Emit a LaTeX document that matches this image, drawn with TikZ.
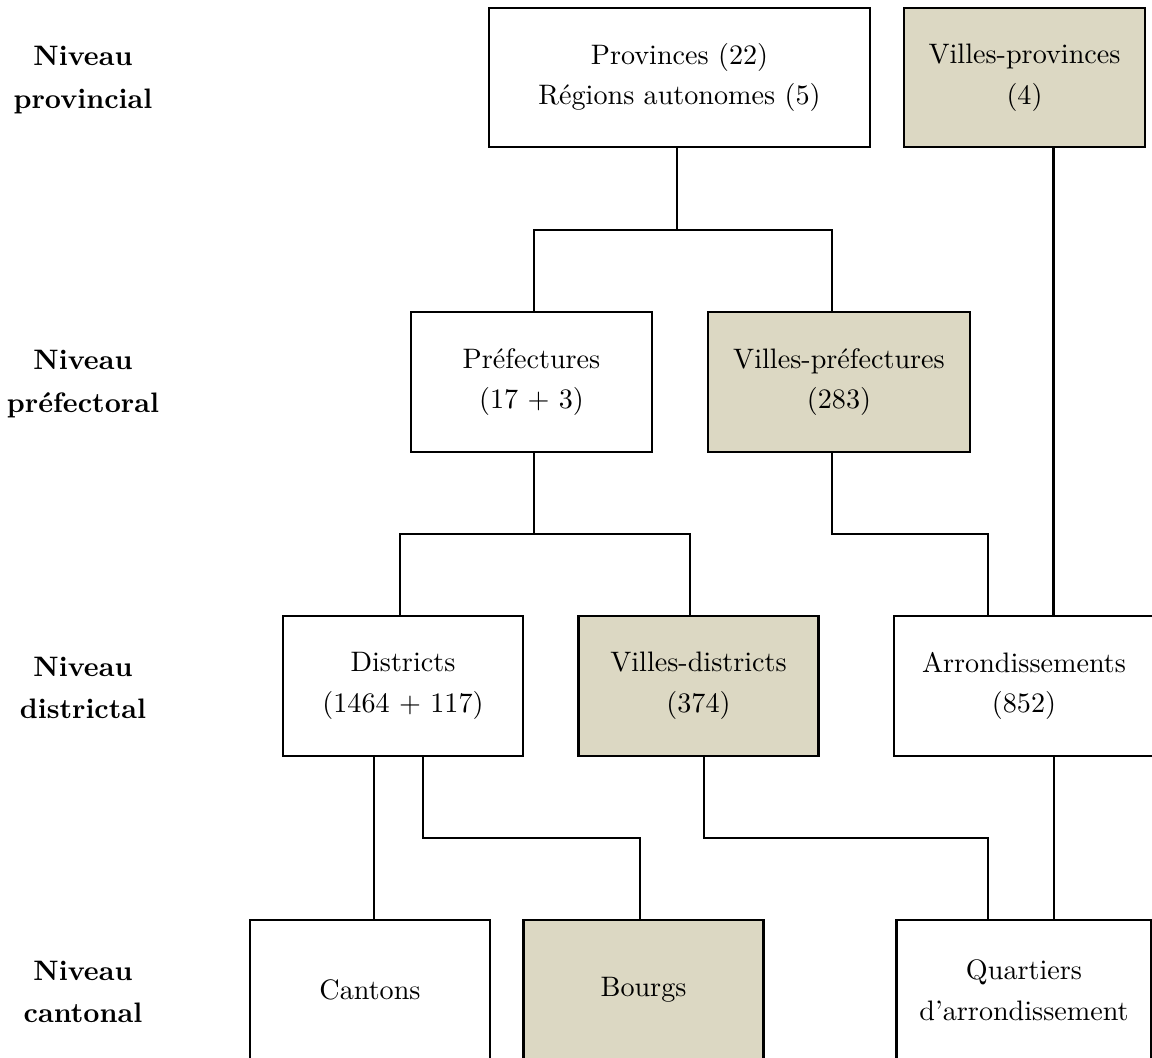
\documentclass[tikz,border=0pt]{standalone}
\usetikzlibrary{calc}
\definecolor{shade}{RGB}{220,216,195}
\begin{document}
\begin{tikzpicture}[x=0.3552pt,y=-0.3552pt,
  box/.style={draw=black,line width=0.75pt,fill=white,rectangle,align=center,
    minimum height=139.5*0.3552pt,inner sep=0pt},
  city/.style={box,fill=shade},
  wd/.style={minimum width=#1*0.3552pt},
  lvl/.style={align=center,font=\bfseries,inner sep=0pt},
  conn/.style={line width=0.75pt}]
\useasboundingbox (0,0) rectangle (1152,1057);
\clip (0,0) rectangle (1152,1057);
% level labels
\node[lvl] (l1) at (83,80) {Niveau\\[3pt]provincial};
\node[lvl] (l2) at (83,384) {Niveau\\[3pt]préfectoral};
\node[lvl] (l3) at (83,688) {Niveau\\[3pt]districtal};
\node[lvl] (l4) at (83,992) {Niveau\\[3pt]cantonal};
% boxes
\node[box,wd=381] (prov) at (679.5,77.5) {Provinces (22)\\[2.5pt]Régions autonomes (5)};
\node[city,wd=241] (vprov) at (1024.5,77.5) {Villes-provinces\\[2.5pt](4)};
\node[box,wd=241] (pref) at (531.5,382) {Préfectures\\[2.5pt](17 + 3)};
\node[city,wd=262] (vpref) at (839,382) {Villes-préfectures\\[2.5pt](283)};
\node[box,wd=240] (dist) at (403,686) {Districts\\[2.5pt](1464 + 117)};
\node[city,wd=240] (vdist) at (698.5,686) {Villes-districts\\[2.5pt](374)};
\node[box,wd=260] (arr) at (1024,686) {Arrondissements\\[2.5pt](852)};
\node[box,wd=240] (cant) at (370,990) {Cantons};
\node[city,wd=240] (bourg) at (643.5,990) {Bourgs};
\node[box,wd=255] (quart) at (1024,990) {Quartiers\\[2.5pt]d’arrondissement};
% junctions
\coordinate (j1) at (677,230);
\coordinate (j2) at (534,534);
\coordinate (j3) at (832,534);
\coordinate (j4) at (423,838);
\coordinate (j5) at (704,838);
% connectors
\draw[conn] (prov.south -| j1) -- (j1);
\draw[conn] (pref.north -| 534,0) |- (j1) -| (vpref.north -| 832,0);
\draw[conn] (vprov.south -| 1053.5,0) -- (arr.north -| 1053.5,0);
\draw[conn] (pref.south -| j2) -- (j2);
\draw[conn] (dist.north -| 400,0) |- (j2) -| (vdist.north -| 690,0);
\draw[conn] (vpref.south -| j3) -- (j3) -| (arr.north -| 988,0);
\draw[conn] (dist.south -| 374,0) -- (cant.north -| 374,0);
\draw[conn] (dist.south -| j4) -- (j4) -| (bourg.north -| 640,0);
\draw[conn] (vdist.south -| j5) -- (j5) -| (quart.north -| 988,0);
\draw[conn] (arr.south -| 1054,0) -- (quart.north -| 1054,0);
\end{tikzpicture}
\end{document}
